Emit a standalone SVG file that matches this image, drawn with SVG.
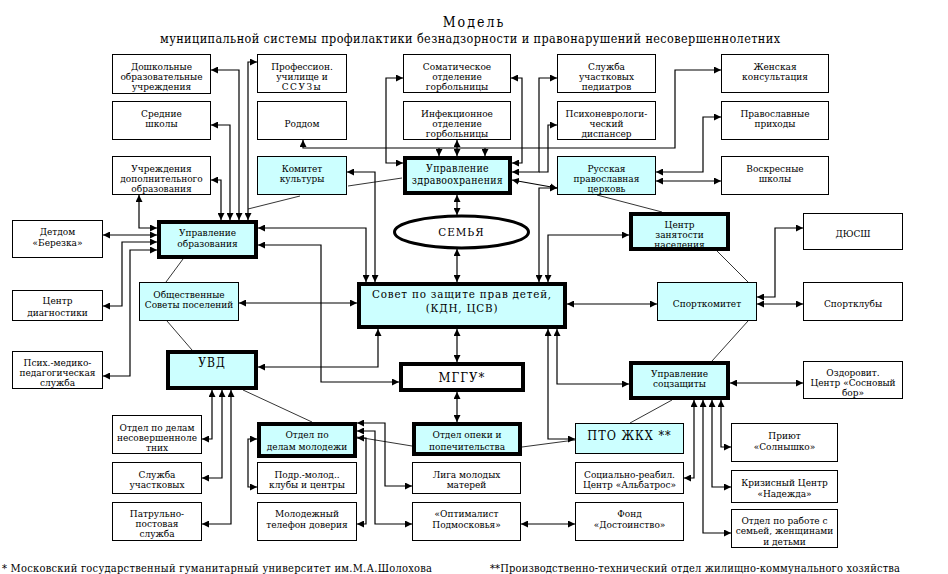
<svg xmlns="http://www.w3.org/2000/svg" width="948" height="574" viewBox="0 0 948 574">
<style>
.b{fill:#fff;stroke:#000;stroke-width:1}
.c{fill:#CCFFFF;stroke:#000;stroke-width:1}
.k{fill:#CCFFFF;stroke:#000;stroke-width:4}
.kw{fill:#fff;stroke:#000;stroke-width:4}
text{font-family:"DejaVu Serif Condensed","DejaVu Serif",serif;font-stretch:condensed;font-size:10px;text-anchor:middle;fill:#000}
.m{font-size:10.5px;letter-spacing:0.3px}
.w{stroke:#000;stroke-width:1.2;fill:none;marker-start:url(#a);marker-end:url(#a)}
.e{stroke:#000;stroke-width:1.2;fill:none;marker-end:url(#a)}
.s{stroke:#000;stroke-width:1.2;fill:none;marker-start:url(#a)}
.r{stroke:#000;stroke-width:0.8;fill:none}
</style>
<defs>
<marker id="a" viewBox="0 0 10 10" refX="10" refY="5" markerWidth="7" markerHeight="7" markerUnits="userSpaceOnUse" orient="auto-start-reverse"><path d="M0,0 L10,5 L0,10 z" fill="#000"/></marker>
</defs>
<rect width="948" height="574" fill="#fff"/>
<g id="title">
<text x="474" y="27" style="font-size:14px;letter-spacing:2px">Модель</text>
<text x="470" y="43" style="font-size:12.5px" textLength="620" lengthAdjust="spacing">муниципальной системы профилактики безнадзорности и правонарушений несовершеннолетних</text>
</g>
<g id="connectors">
<path class="w" d="M211,70 H239 V220"/>
<path class="w" d="M211,125 H230 V220"/>
<path class="w" d="M211,180 H221 V220"/>
<path class="w" d="M257,62 H248 V220"/>
<path class="w" d="M139,195 V228 H157"/>
<path class="w" d="M103,235 H157"/>
<path class="w" d="M103,306 H122 V242 H157"/>
<path class="w" d="M103,376 H130 V250 H157"/>
<path class="w" d="M258,228 H366 V282"/>
<path class="w" d="M347,172 H375 V282"/>
<path class="w" d="M258,245 H321 V382 H399"/>
<path class="w" d="M239,303 H357"/>
<path class="w" d="M258,367 H378 V329"/>
<path class="w" d="M303,140 V148 H675 V70 H721"/>
<path class="e" d="M439,148 V156"/>
<path class="e" d="M485,148 V156"/>
<path class="w" d="M457,140 V156"/>
<path class="w" d="M403,78 H386 V163 H403"/>
<path class="w" d="M511,78 H522 V163 H512"/>
<path class="w" d="M557,78 H539 V172 H512"/>
<path class="s" d="M557,125 H548 V172 H539"/>
<path class="w" d="M512,180 L557,188"/>
<path class="w" d="M539,282 V188 H557"/>
<path class="w" d="M457,195 V215"/>
<path class="w" d="M457,249 V282"/>
<path class="w" d="M457,329 V362"/>
<path class="w" d="M457,392 V422"/>
<path class="w" d="M629,235 H548 V282"/>
<path class="w" d="M567,304 H657"/>
<path class="w" d="M557,329 V384 H629"/>
<path class="w" d="M548,329 V439 H575"/>
<path class="w" d="M656,172 H703 V117 H721"/>
<path class="w" d="M656,181 H721"/>
<path class="w" d="M757,297 H775 V228 H803"/>
<path class="w" d="M757,304 H803"/>
<path class="w" d="M730,383 H803"/>
<path class="w" d="M694,400 V478 H684"/>
<path class="w" d="M703,400 V533 H731"/>
<path class="w" d="M712,400 V487 H731"/>
<path class="w" d="M721,400 V447 H731"/>
<path class="w" d="M521,524 H575"/>
<path class="w" d="M212,390 V439 H202"/>
<path class="w" d="M222,390 V478 H202"/>
<path class="w" d="M231,390 V524 H202"/>
<path class="w" d="M257,439 H248 V487 H257"/>
<path class="w" d="M357,423 H385 V486 H412"/>
<path class="w" d="M357,431 H375 V524 H412"/>
<path class="w" d="M357,438 H366 V524 H357"/>
<path class="r" d="M183,259 L166,282"/>
<path class="r" d="M167,321 L192,350"/>
<path class="r" d="M243,390 L312,422"/>
<path class="r" d="M357,437 L412,446"/>
<path class="r" d="M522,447 L575,440"/>
<path class="r" d="M630,423 L672,400"/>
<path class="r" d="M712,361 L748,321"/>
<path class="r" d="M748,282 L717,251"/>
<path class="r" d="M662,212 L597,195"/>
<path class="r" d="M402,178 L348,186"/>
<path class="r" d="M300,196 L248,209"/>
</g>
<g id="n-doshk"><rect class="b" x="112.5" y="54.5" width="98" height="39"/><text x="161.5" y="69.5">Дошкольные</text><text x="161.5" y="79.5">образовательные</text><text x="161.5" y="89.5">учреждения</text></g>
<g id="n-shkoly"><rect class="b" x="112.5" y="101.5" width="98" height="38"/><text x="161.5" y="116.5">Средние</text><text x="161.5" y="126.5">школы</text></g>
<g id="n-dop"><rect class="b" x="112.5" y="156.5" width="98" height="38"/><text x="161.5" y="171.5">Учреждения</text><text x="161.5" y="181.5">дополнительного</text><text x="161.5" y="191.5">образования</text></g>
<g id="n-prof"><rect class="b" x="257.5" y="54.5" width="89" height="38"/><text x="302" y="69.5">Профессион.</text><text x="302" y="79.5">училище и</text><text x="302" y="89.5" style="letter-spacing:1.5px">ССУЗы</text></g>
<g id="n-roddom"><rect class="b" x="257.5" y="101.5" width="89" height="38"/><text x="302" y="126.5">Роддом</text></g>
<g id="n-kult"><rect class="c" x="257.5" y="156.5" width="89" height="38"/><text x="302" y="171.5">Комитет</text><text x="302" y="181.5">культуры</text></g>
<g id="n-somat"><rect class="b" x="403.5" y="54.5" width="107" height="38"/><text x="457" y="69.5">Соматическое</text><text x="457" y="79.5">отделение</text><text x="457" y="89.5">горбольницы</text></g>
<g id="n-infek"><rect class="b" x="403.5" y="101.5" width="107" height="38"/><text x="457" y="116.5">Инфекционное</text><text x="457" y="126.5">отделение</text><text x="457" y="136.5">горбольницы</text></g>
<g id="n-pediatr"><rect class="b" x="557.5" y="54.5" width="98" height="38"/><text x="606.5" y="69.5">Служба</text><text x="606.5" y="79.5">участковых</text><text x="606.5" y="89.5">педиатров</text></g>
<g id="n-psih"><rect class="b" x="557.5" y="101.5" width="98" height="38"/><text x="606.5" y="116.5">Психоневрологи-</text><text x="606.5" y="126.5">ческий</text><text x="606.5" y="136.5">диспансер</text></g>
<g id="n-zdrav"><rect class="k" x="405" y="158" width="105" height="35"/><text class="m" x="457.5" y="172">Управление</text><text class="m" x="457.5" y="184">здравоохранения</text></g>
<g id="n-church"><rect class="c" x="557.5" y="156.5" width="98" height="38"/><text x="606.5" y="171.5">Русская</text><text x="606.5" y="181.5">православная</text><text x="606.5" y="191.5">церковь</text></g>
<g id="n-zhensk"><rect class="b" x="721.5" y="54.5" width="107" height="38"/><text x="775" y="69.5">Женская</text><text x="775" y="79.5">консультация</text></g>
<g id="n-prihody"><rect class="b" x="721.5" y="101.5" width="107" height="38"/><text x="775" y="116.5">Православные</text><text x="775" y="126.5">приходы</text></g>
<g id="n-voskr"><rect class="b" x="721.5" y="156.5" width="107" height="38"/><text x="775" y="171.5">Воскресные</text><text x="775" y="182">школы</text></g>
<g id="n-zanyat"><rect class="k" x="631" y="214" width="97" height="35"/><text x="679.5" y="227.5">Центр</text><text x="679.5" y="237.5">занятости</text><text x="679.5" y="247.5">населения</text></g>
<g id="n-dyussh"><rect class="b" x="803.5" y="213.5" width="99" height="36"/><text x="853" y="236.5">ДЮСШ</text></g>
<g id="n-sport"><rect class="c" x="657.5" y="282.5" width="99" height="38"/><text x="707" y="306.5">Спорткомитет</text></g>
<g id="n-sportkl"><rect class="b" x="803.5" y="282.5" width="99" height="38"/><text x="853" y="306.5">Спортклубы</text></g>
<g id="n-soczash"><rect class="k" x="631" y="363" width="97" height="35"/><text x="679.5" y="376.5">Управление</text><text x="679.5" y="386.5">соцзащиты</text></g>
<g id="n-ozdor"><rect class="b" x="803.5" y="361.5" width="99" height="37"/><text x="853" y="375.5">Оздоровит.</text><text x="853" y="385.5">Центр «Сосновый</text><text x="853" y="395.5">бор»</text></g>
<g id="n-detdom"><rect class="b" x="12.5" y="220.5" width="90" height="37"/><text x="57.5" y="234.5">Детдом</text><text x="57.5" y="245.5">«Березка»</text></g>
<g id="n-obraz"><rect class="k" x="159" y="222" width="97" height="35"/><text x="207.5" y="235.5">Управление</text><text x="207.5" y="246.5">образования</text></g>
<g id="n-diagn"><rect class="b" x="12.5" y="290.5" width="90" height="30"/><text x="57.5" y="303.5">Центр</text><text x="57.5" y="315.5">диагностики</text></g>
<g id="n-obsch"><rect class="c" x="139.5" y="282.5" width="99" height="38"/><text x="189" y="297.5">Общественные</text><text x="189" y="307.5">Советы поселений</text></g>
<g id="n-pmp"><rect class="b" x="12.5" y="351.5" width="90" height="37"/><text x="57.5" y="365.5">Псих.-медико-</text><text x="57.5" y="375.5">педагогическая</text><text x="57.5" y="385.5">служба</text></g>
<g id="n-uvd"><rect class="k" x="168" y="352" width="88" height="36"/><text x="212" y="367" style="font-size:12px;letter-spacing:1px">УВД</text></g>
<g id="n-sovet"><rect class="k" x="359" y="284" width="206" height="43"/><text x="462" y="298" style="font-size:11.5px;letter-spacing:0.8px">Совет по защите прав детей,</text><text x="462" y="312" style="font-size:11.5px;letter-spacing:0.8px">(КДН, ЦСВ)</text></g>
<g id="n-semya"><ellipse cx="461.5" cy="232" rx="67" ry="16" fill="#fff" stroke="#000" stroke-width="3"/><text x="461.5" y="236" style="font-size:11.5px;letter-spacing:1px">СЕМЬЯ</text></g>
<g id="n-mggu"><rect class="kw" x="401" y="364" width="122" height="26"/><text x="462" y="381.5" style="font-size:13px;letter-spacing:1px">МГГУ*</text></g>
<g id="n-opeka"><rect class="k" x="414" y="424" width="106" height="30"/><text x="467" y="437.5">Отдел опеки и</text><text x="467" y="449.5">попечительства</text></g>
<g id="n-pto"><rect class="c" x="575.5" y="423.5" width="108" height="30"/><text x="629.5" y="439.5" style="font-size:12.5px;letter-spacing:1px">ПТО  ЖКХ **</text></g>
<g id="n-liga"><rect class="b" x="412.5" y="462.5" width="108" height="31"/><text x="466.5" y="477.5">Лига молодых</text><text x="466.5" y="487.5">матерей</text></g>
<g id="n-optim"><rect class="b" x="412.5" y="502.5" width="108" height="38"/><text x="466.5" y="516.5">«Оптималист</text><text x="466.5" y="527.5">Подмосковья»</text></g>
<g id="n-albatros"><rect class="b" x="575.5" y="462.5" width="108" height="31"/><text x="629.5" y="477.5">Социально-реабил.</text><text x="629.5" y="487.5">Центр «Альбатрос»</text></g>
<g id="n-fond"><rect class="b" x="575.5" y="502.5" width="108" height="38"/><text x="629.5" y="516.5">Фонд</text><text x="629.5" y="527.5">«Достоинство»</text></g>
<g id="n-pdn"><rect class="b" x="112.5" y="415.5" width="89" height="38"/><text x="157" y="431">Отдел по делам</text><text x="157" y="440.5">несовершенноле</text><text x="157" y="450.5">тних</text></g>
<g id="n-uchastk"><rect class="b" x="112.5" y="462.5" width="89" height="31"/><text x="157" y="477.5">Служба</text><text x="157" y="487.5">участковых</text></g>
<g id="n-pps"><rect class="b" x="112.5" y="502.5" width="89" height="38"/><text x="157" y="516.5">Патрульно-</text><text x="157" y="526.5">постовая</text><text x="157" y="536.5">служба</text></g>
<g id="n-molod"><rect class="k" x="259" y="424" width="96" height="32"/><text x="307" y="437.5">Отдел по</text><text x="307" y="449.5">делам  молодежи</text></g>
<g id="n-klub"><rect class="b" x="257.5" y="462.5" width="99" height="31"/><text x="307" y="477.5">Подр.-молод..</text><text x="307" y="487.5">клубы  и центры</text></g>
<g id="n-telefon"><rect class="b" x="257.5" y="502.5" width="99" height="38"/><text x="307" y="516.5">Молодежный</text><text x="307" y="527.5">телефон доверия</text></g>
<g id="n-priyut"><rect class="b" x="731.5" y="423.5" width="106" height="38"/><text x="784.5" y="438.5">Приют</text><text x="784.5" y="449.5">«Солнышко»</text></g>
<g id="n-kriz"><rect class="b" x="731.5" y="470.5" width="106" height="32"/><text x="784.5" y="486">Кризисный Центр</text><text x="784.5" y="496.5">«Надежда»</text></g>
<g id="n-semotd"><rect class="b" x="731.5" y="509.5" width="106" height="38"/><text x="784.5" y="523.5">Отдел по работе с</text><text x="784.5" y="534">семьей, женщинами</text><text x="784.5" y="544.5">и детьми</text></g>
<g id="footer">
<text x="2" y="572" style="font-size:11px;text-anchor:start" textLength="430" lengthAdjust="spacing">* Московский государственный гуманитарный  университет им.М.А.Шолохова</text>
<text x="490" y="572" style="font-size:11px;text-anchor:start" textLength="410" lengthAdjust="spacing">**Производственно-технический отдел жилищно-коммунального хозяйства</text>
</g>
</svg>
